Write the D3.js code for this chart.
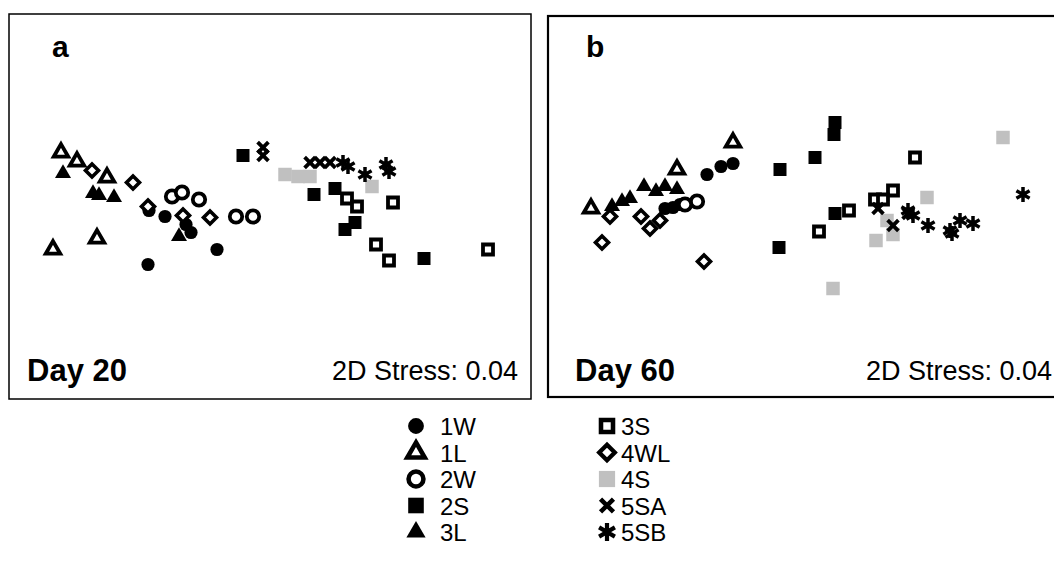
<!DOCTYPE html>
<html>
<head>
<meta charset="utf-8">
<script src="https://cdn.jsdelivr.net/npm/d3@7"></script>
<style>
  html, body { margin: 0; padding: 0; background: #fff; }
  svg { display: block; font-family: "Liberation Sans", Arial, sans-serif; }
</style>
</head>
<body>
<svg id="chart" width="1054" height="583"></svg>
<script>
// nMDS ordination coordinates, one array per sample group and sampling day
const groups = ["1W", "1L", "2W", "2S", "3L", "3S", "4WL", "4S", "5SA", "5SB"];

const d20_1W  = [[-1.05,-0.10],[-1.22,-0.58],[-0.53,-0.43],[-0.79,-0.26],[-1.21,-0.04],[-0.84,-0.18]];
const d20_1L  = [[-2.09,0.54],[-1.93,0.45],[-1.63,0.29],[-1.73,-0.32],[-2.17,-0.43]];
const d20_2W  = [[-0.98,0.10],[-0.88,0.14],[-0.71,0.07],[-0.34,-0.10],[-0.17,-0.10]];
const d20_2S  = [[-0.27,0.51],[0.44,0.12],[0.65,0.18],[0.85,-0.16],[0.75,-0.23],[1.54,-0.52]];
const d20_3L  = [[-2.07,0.33],[-1.77,0.13],[-1.71,0.11],[-1.56,0.09],[-0.91,-0.30]];
const d20_3S  = [[0.77,0.08],[0.87,0.00],[1.23,0.04],[1.06,-0.38],[1.19,-0.54],[2.18,-0.43]];
const d20_4WL = [[-1.78,0.36],[-1.37,0.24],[-1.22,0.00],[-0.87,-0.09],[-0.60,-0.11]];
const d20_4S  = [[0.15,0.32],[0.28,0.30],[0.40,0.30],[1.02,0.20]];
const d20_5SA = [[-0.07,0.59],[-0.07,0.51],[0.40,0.44],[0.50,0.44],[0.60,0.44]];
const d20_5SB = [[0.73,0.44],[0.78,0.40],[0.95,0.32],[1.16,0.42],[1.19,0.35]];

const d60_1W  = [[-1.02,0.32],[-0.88,0.40],[-0.76,0.43],[-1.44,-0.02],[-1.36,-0.01],[-1.29,0.02]];
const d60_1L  = [[-0.76,0.64],[-1.32,0.37],[-2.18,-0.02]];
const d60_2W  = [[-1.12,0.05],[-1.24,0.02]];
const d60_2S  = [[0.26,0.84],[0.25,0.72],[0.06,0.49],[-0.29,0.37],[0.26,-0.07],[-0.30,-0.41]];
const d60_3L  = [[-1.65,0.20],[-1.53,0.15],[-1.44,0.20],[-1.32,0.17],[-1.97,0.00],[-1.87,0.05],[-1.79,0.08]];
const d60_3S  = [[1.06,0.49],[0.84,0.16],[0.66,0.07],[0.74,0.07],[0.40,-0.04],[0.10,-0.25]];
const d60_4WL = [[-1.99,-0.10],[-1.68,-0.10],[-1.59,-0.22],[-1.49,-0.14],[-2.07,-0.36],[-1.05,-0.55]];
const d60_4S  = [[1.94,0.69],[1.18,0.09],[0.78,-0.14],[0.84,-0.28],[0.67,-0.34],[0.24,-0.82]];
const d60_5SA = [[0.69,-0.02],[0.84,-0.19],[0.99,-0.07]];
const d60_5SB = [[0.99,-0.04],[1.04,-0.09],[1.19,-0.19],[1.41,-0.24],[1.43,-0.27],[1.51,-0.14],[1.64,-0.17],[2.14,0.12]];

const day20 = [d20_1W, d20_1L, d20_2W, d20_2S, d20_3L, d20_3S, d20_4WL, d20_4S, d20_5SA, d20_5SB];
const day60 = [d60_1W, d60_1L, d60_2W, d60_2S, d60_3L, d60_3S, d60_4WL, d60_4S, d60_5SA, d60_5SB];

const stressA = 0.04, stressB = 0.04;

// ---- marker shapes (path strings, scaled by k) ----
function trianglePath(s) {
  const h = s * Math.sqrt(3) / 2;
  return `M0,${-h * 2 / 3}L${s / 2},${h / 3}L${-s / 2},${h / 3}Z`;
}
function squarePath(side) {
  const a = side / 2;
  return `M${-a},${-a}H${a}V${a}H${-a}Z`;
}
function diamondPath(r) {
  return `M0,${-r}L${r},0L0,${r}L${-r},0Z`;
}
function crossPath(r) {
  return `M${-r},${-r}L${r},${r}M${r},${-r}L${-r},${r}`;
}
function asteriskPath(r) {
  let p = "";
  [90, 30, 150].forEach(deg => {
    const a = deg * Math.PI / 180, dx = r * Math.cos(a), dy = r * Math.sin(a);
    p += `M${(-dx).toFixed(2)},${(-dy).toFixed(2)}L${dx.toFixed(2)},${dy.toFixed(2)}`;
  });
  return p;
}
const circlePath = r => d3.symbol(d3.symbolCircle, Math.PI * r * r)();

const styles = {
  "1W":  k => ({ d: circlePath(6.6 * k), fill: "#000", stroke: "none", sw: 0 }),
  "1L":  k => ({ d: trianglePath(14.5 * k), fill: "#fff", stroke: "#000", sw: 3.8 * k }),
  "2W":  k => ({ d: circlePath(6.2 * k), fill: "#fff", stroke: "#000", sw: 3.8 * k }),
  "2S":  k => ({ d: squarePath(13 * k), fill: "#000", stroke: "none", sw: 0 }),
  "3L":  k => ({ d: trianglePath(16 * k), fill: "#000", stroke: "none", sw: 0 }),
  "3S":  k => ({ d: squarePath(10 * k), fill: "#fff", stroke: "#000", sw: 3.8 * k }),
  "4WL": k => ({ d: diamondPath(6.5 * k), fill: "#fff", stroke: "#000", sw: 3.6 * k }),
  "4S":  k => ({ d: squarePath(13.5 * k), fill: "#c0c0c0", stroke: "none", sw: 0 }),
  "5SA": k => ({ d: crossPath(5.4 * k), fill: "none", stroke: "#000", sw: 3.8 * k }),
  "5SB": k => ({ d: asteriskPath(7.6 * k), fill: "none", stroke: "#000", sw: 3.5 * k })
};

const svg = d3.select("#chart");
svg.append("rect").attr("width", 1054).attr("height", 583).attr("fill", "#fff");

function drawPanel(cfg) {
  const x = d3.scaleLinear().domain([-2.61, 2.61]).range([cfg.x0, cfg.x1]);
  const y = d3.scaleLinear().domain(cfg.ydom).range([cfg.y1, cfg.y0]);
  const g = svg.append("g");

  g.append("rect")
    .attr("x", cfg.x0).attr("y", cfg.y0)
    .attr("width", cfg.x1 - cfg.x0).attr("height", cfg.y1 - cfg.y0)
    .attr("fill", "none").attr("stroke", "#000").attr("stroke-width", cfg.frameW);

  cfg.data.forEach((pts, gi) => {
    const st = styles[groups[gi]](1);
    g.append("g").selectAll("path").data(pts).join("path")
      .attr("transform", d => `translate(${x(d[0])},${y(d[1])})`)
      .attr("d", st.d)
      .attr("fill", st.fill)
      .attr("stroke", st.stroke)
      .attr("stroke-width", st.sw);
  });

  g.append("text").attr("x", cfg.letterX).attr("y", 57)
    .attr("font-size", 30).attr("font-weight", "bold").text(cfg.letter);
  g.append("text").attr("x", cfg.dayX).attr("y", 381)
    .attr("font-size", 31).attr("font-weight", "bold").text(cfg.day);
  g.append("text").attr("x", cfg.stressX).attr("y", 380)
    .attr("text-anchor", "end").attr("font-size", 27)
    .text(`2D Stress: ${cfg.stress.toFixed(2)}`);
}

drawPanel({ x0: 9, x1: 531, y0: 14, y1: 399, ydom: [-1.925, 1.925], frameW: 1.5,
  data: day20, letter: "a", letterX: 52, day: "Day 20", dayX: 27, stress: stressA, stressX: 518 });
drawPanel({ x0: 548, x1: 1070, y0: 16, y1: 397, ydom: [-1.905, 1.905], frameW: 2.2,
  data: day60, letter: "b", letterX: 586, day: "Day 60", dayX: 575, stress: stressB, stressX: 1052 });

// ---- legend ----
const legendCols = [
  { sx: 416, tx: 440, items: groups.slice(0, 5) },
  { sx: 607, tx: 621, items: groups.slice(5) }
];
const rowY = d3.scaleLinear().domain([0, 4]).range([426, 532]);
const legend = svg.append("g");
legendCols.forEach(col => {
  col.items.forEach((name, i) => {
    const st = styles[name](1.2);
    legend.append("path")
      .attr("transform", `translate(${col.sx},${rowY(i)})`)
      .attr("d", st.d).attr("fill", st.fill)
      .attr("stroke", st.stroke).attr("stroke-width", st.sw);
    legend.append("text").attr("x", col.tx).attr("y", rowY(i) + 9)
      .attr("font-size", 24).text(name);
  });
});
</script>
</body>
</html>
